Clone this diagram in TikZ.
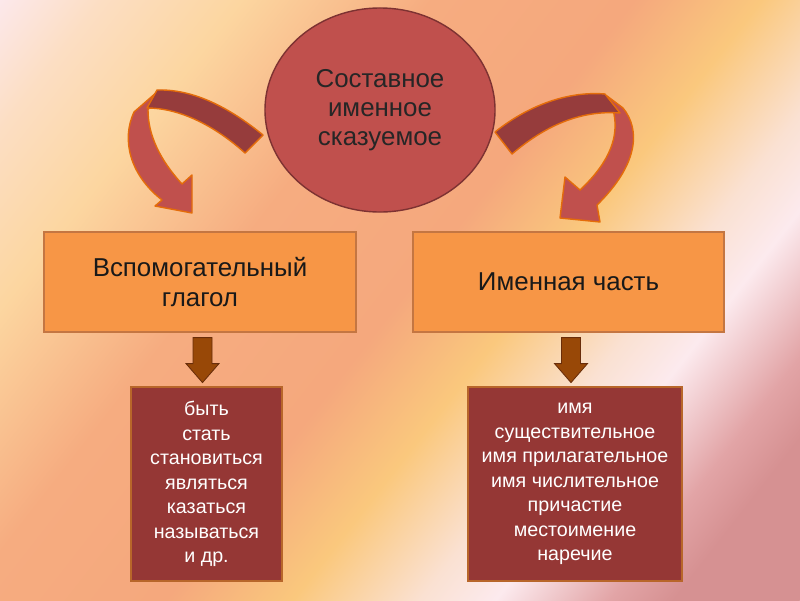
\documentclass[tikz,border=0pt]{standalone}
\usepackage{fontspec}
\setmainfont{Liberation Sans}
\usetikzlibrary{shapes.geometric,calc}

\definecolor{predfill}{RGB}{192,80,77}
\definecolor{preddraw}{RGB}{125,50,50}
\definecolor{partfill}{RGB}{247,150,70}
\definecolor{partdraw}{RGB}{196,118,66}
\definecolor{listfill}{RGB}{149,55,53}
\definecolor{listdraw}{RGB}{184,102,42}
\definecolor{downfill}{RGB}{152,72,7}
\definecolor{downdraw}{RGB}{105,45,10}
\definecolor{ribbonlightfill}{RGB}{192,80,77}
\definecolor{ribbondarkfill}{RGB}{150,60,60}
\definecolor{ribbondraw}{RGB}{228,108,10}
% background bands, top left to bottom right
\definecolor{bgA}{RGB}{252,232,235}
\definecolor{bgB}{RGB}{252,222,195}
\definecolor{bgC}{RGB}{252,214,160}
\definecolor{bgD}{RGB}{246,172,128}
\definecolor{bgE}{RGB}{245,168,125}
\definecolor{bgF}{RGB}{250,200,125}
\definecolor{bgG}{RGB}{250,225,210}
\definecolor{bgH}{RGB}{252,234,238}
\definecolor{bgI}{RGB}{226,164,166}
\definecolor{bgJ}{RGB}{214,145,146}

\pgfdeclarehorizontalshading{bgshade}{100bp}{color(0bp)=(bgA); color(25bp)=(bgA);
  color(29bp)=(bgB); color(34.5bp)=(bgC); color(42bp)=(bgD); color(50bp)=(bgE);
  color(55bp)=(bgF); color(60bp)=(bgG); color(63bp)=(bgH); color(67.5bp)=(bgI);
  color(70bp)=(bgJ); color(100bp)=(bgJ)}

\tikzset{
  pred/.style={ellipse, draw=preddraw, fill=predfill, line width=1pt,
    minimum width=5.75cm, minimum height=5.1cm, inner sep=0pt, align=center,
    text=black!85, font=\fontsize{18.4}{20.6}\selectfont},
  part/.style={rectangle, draw=partdraw, fill=partfill, line width=0.8pt,
    minimum width=7.8cm, minimum height=2.5cm, align=center,
    text=black!90, font=\fontsize{18.4}{21}\selectfont},
  list/.style={rectangle, draw=listdraw, fill=listfill, line width=0.8pt,
    minimum height=4.85cm, align=center, text=white,
    font=\fontsize{14}{17.4}\selectfont},
  downarr/.style={draw=downdraw, fill=downfill, line width=0.6pt},
  ribbonlight/.style={draw=ribbondraw, fill=ribbonlightfill, line width=1pt, line join=round},
  ribbondark/.style={draw=ribbondraw, fill=ribbondarkfill, line width=1pt, line join=round}
}

\begin{document}
\begin{tikzpicture}[x=0.025cm, y=-0.025cm]
    \useasboundingbox (0,0) rectangle (800,600);
    \begin{scope}
        \clip (0,0) rectangle (800,600);
        \shade[shading=bgshade, transform canvas={rotate around={-38:(400,300)}}]
            (-100,-200) rectangle (900,800);
    \end{scope}

    % curved arrows
    \draw[ribbonlight] (157,92) -- (134,112) .. controls (121,140) and (130,175) .. (162,200)
        -- (155,206) -- (192,213) -- (192,175) -- (182,184)
        .. controls (160,160) and (148,135) .. (148,110) -- cycle;
    \draw[ribbondark] (263,135) .. controls (225,104) and (190,89) .. (157,90)
        -- (147,108) .. controls (180,108) and (215,126) .. (245,153) -- cycle;

    \draw[ribbonlight] (607,96) -- (623,108) .. controls (641,130) and (638,165) .. (597,205)
        -- (600,222) -- (560,218) -- (565,177) -- (580,190)
        .. controls (612,160) and (618,135) .. (614,114) -- cycle;
    \draw[ribbondark] (495,132) .. controls (530,104) and (570,91) .. (605,94)
        -- (620,113) .. controls (580,110) and (545,126) .. (512,154) -- cycle;

    \node[pred] (pred) at (380,110) {Составное\\именное\\сказуемое};

    \node[part] (aux) at (200,282) {Вспомогательный\\глагол};
    \node[part, minimum width=7.775cm] (nom) at (568.5,282) {Именная часть};

    \node[list, minimum width=3.775cm] (auxlist) at (206.5,484)
        {быть\\стать\\становиться\\являться\\казаться\\называться\\и др.};
    \node[list, minimum width=5.35cm] (nomlist) at (575,484)
        {имя\\существительное\\имя прилагательное\\имя числительное\\причастие\\местоимение\\наречие};

    % down arrows
    \draw[downarr] ($(aux.south)+(-7,5)$) -- ++(19,0) -- ++(0,26) -- ++(7,0)
        -- ++(-16.5,19) -- ++(-16.5,-19) -- ++(7,0) -- cycle;
    \draw[downarr] ($(nom.south)+(-7,5)$) -- ++(19,0) -- ++(0,26) -- ++(7,0)
        -- ++(-16.5,19) -- ++(-16.5,-19) -- ++(7,0) -- cycle;
\end{tikzpicture}
\end{document}
